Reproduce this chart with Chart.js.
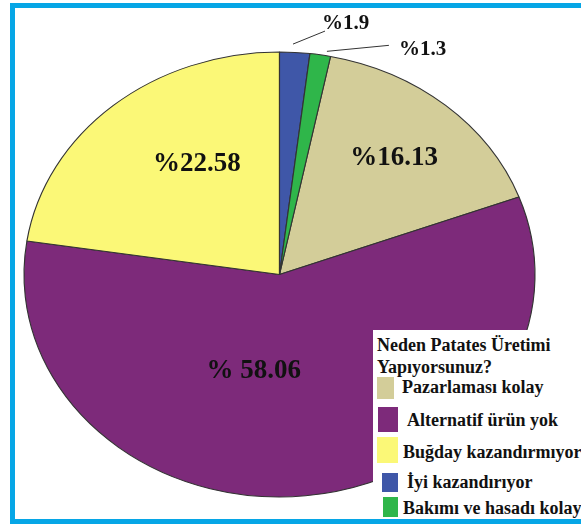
<!DOCTYPE html>
<html>
<head>
<meta charset="utf-8">
<title>Neden Patates Üretimi Yapıyorsunuz?</title>
<script src="https://cdn.jsdelivr.net/npm/chart.js@4.4.0/dist/chart.umd.min.js"></script>
<style>
    html, body { margin: 0; padding: 0; background: #fff; overflow: hidden; }
    #wrap { position: relative; width: 581px; height: 524px; }
    #pie { position: absolute; left: 0; top: 0; }
    #frame {
        position: absolute; left: 10px; top: 3px; width: 610px; height: 521px;
        border: 5px solid #06a6e6; box-sizing: border-box; pointer-events: none;
    }
    #legend {
        position: absolute; left: 373px; top: 330px; width: 208px; height: 190px;
        background: #fff; color: #111;
        font-family: "Liberation Serif", "DejaVu Serif", serif; font-weight: bold; font-size: 18px;
    }
    #legend div { position: absolute; white-space: nowrap; line-height: 22px; }
    #legend span.box { position: absolute; }
</style>
</head>
<body>
<div id="wrap">
    <canvas id="pie" width="581" height="524"></canvas>
    <div id="legend"></div>
    <div id="frame"></div>
</div>
<script>
// 数据
const categories = ['Pazarlaması kolay', 'Alternatif ürün yok', 'Buğday kazandırmıyor', 'İyi kazandırıyor', 'Bakımı ve hasadı kolay'];
const percentValues = [16.13, 58.06, 22.58, 1.9, 1.3];
const valueLabels = ['%16.13', '% 58.06', '%22.58', '%1.9', '%1.3'];
const sliceColors = ['#d3cd99', '#7d2a7a', '#fbf877', '#3f57a8', '#2fb64a'];
const legendTitle = ['Neden Patates Üretimi', 'Yapıyorsunuz?'];

// 饼图被横向拉伸成椭圆
const X_STRETCH = 255.5 / 222.5;

// 标签位置 (r: 半径比例, da: 角度偏移, 小扇区使用引线)
const labelPlacement = [
    { r: 0.69, da: 0, size: 27 },
    { r: 0.445, da: 19, size: 27 },
    { r: 0.593, da: 7.6, size: 27 },
    { r: 1.037, da: -0.5, size: 21, line: [32, -13], text: [-3, -7] },
    { r: 1.02, da: 1.3, size: 21, line: [62, -6], text: [10, 4] }
];

// 图例行布局
const legendRows = [
    { box: [4, 47, 17, 22], text: [29, 376] },
    { box: [5, 77, 20, 25], text: [34, 409] },
    { box: [4, 107, 21, 26], text: [30, 441] },
    { box: [9, 143, 16, 19], text: [34, 471] },
    { box: [10, 167, 15, 20], text: [30, 497] }
];

// 起始角：从蓝色扇区开始顺时针
const total = percentValues.reduce((a, b) => a + b, 0);
const startRotation = (percentValues[3] + percentValues[4]) / total * 360;

const ellipsePlugin = {
    id: 'ellipse',
    beforeDatasetsDraw(chart) {
        const arc = chart.getDatasetMeta(0).data[0];
        const ctx = chart.ctx;
        ctx.save();
        ctx.translate(arc.x, arc.y);
        ctx.scale(X_STRETCH, 1);
        ctx.translate(-arc.x, -arc.y);
    },
    afterDatasetsDraw(chart) {
        chart.ctx.restore();
    }
};

const labelPlugin = {
    id: 'sliceLabels',
    afterDraw(chart) {
        const ctx = chart.ctx;
        chart.getDatasetMeta(0).data.forEach((arc, i) => {
            const p = labelPlacement[i];
            const a = (arc.startAngle + arc.endAngle) / 2 + p.da * Math.PI / 180;
            const px = arc.x + Math.cos(a) * p.r * arc.outerRadius * X_STRETCH;
            const py = arc.y + Math.sin(a) * p.r * arc.outerRadius;
            ctx.save();
            ctx.fillStyle = '#111';
            ctx.font = 'bold ' + p.size + 'px "Liberation Serif", serif';
            ctx.textBaseline = 'middle';
            if (p.line) {
                const ex = px + p.line[0];
                const ey = py + p.line[1];
                ctx.strokeStyle = '#333';
                ctx.lineWidth = 1;
                ctx.beginPath();
                ctx.moveTo(px, py);
                ctx.lineTo(ex, ey);
                ctx.stroke();
                ctx.textAlign = 'left';
                ctx.fillText(valueLabels[i], ex + p.text[0], ey + p.text[1]);
            } else {
                ctx.textAlign = 'center';
                ctx.fillText(valueLabels[i], px, py);
            }
            ctx.restore();
        });
    }
};

new Chart(document.getElementById('pie'), {
    type: 'pie',
    data: {
        labels: categories,
        datasets: [{
            data: percentValues,
            backgroundColor: sliceColors,
            borderColor: '#333',
            borderWidth: 1
        }]
    },
    options: {
        responsive: false,
        animation: false,
        events: [],
        rotation: startRotation,
        radius: 222.5,
        layout: { padding: { left: 57, right: 79, top: 52, bottom: 27 } },
        plugins: {
            legend: { display: false },
            tooltip: { enabled: false }
        }
    },
    plugins: [ellipsePlugin, labelPlugin]
});

// 图例
const legend = document.getElementById('legend');
legendTitle.forEach((line, i) => {
    const d = document.createElement('div');
    d.textContent = line;
    d.style.left = '4px';
    d.style.top = (344.5 + i * 22 - 11 - 330) + 'px';
    legend.appendChild(d);
});
categories.forEach((name, i) => {
    const row = legendRows[i];
    const box = document.createElement('span');
    box.className = 'box';
    box.style.left = row.box[0] + 'px';
    box.style.top = row.box[1] + 'px';
    box.style.width = row.box[2] + 'px';
    box.style.height = row.box[3] + 'px';
    box.style.background = sliceColors[i];
    legend.appendChild(box);
    const t = document.createElement('div');
    t.textContent = name;
    t.style.left = row.text[0] + 'px';
    t.style.top = (row.text[1] + 11 - 11 - 330 + 0) + 'px';
    legend.appendChild(t);
});
</script>
</body>
</html>
